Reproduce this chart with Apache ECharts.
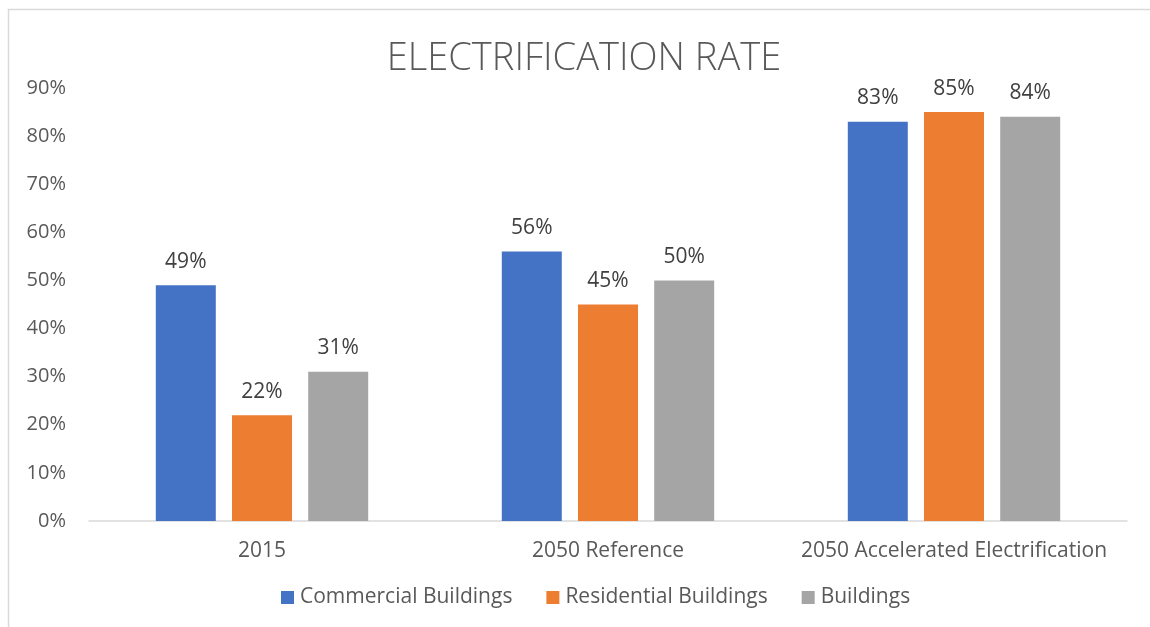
<!DOCTYPE html>
<html>
<head>
<meta charset="utf-8">
<script src="https://cdn.jsdelivr.net/npm/echarts@6/dist/echarts.min.js"></script>
<style>
  html, body { margin: 0; padding: 0; background: #fff; }
  #chart { width: 1150px; height: 627px; }
</style>
</head>
<body>
<div id="chart"></div>
<script>
// Electrification rate by scenario (percent)
const categories = ['2015', '2050 Reference', '2050 Accelerated Electrification'];
const seriesNames = ['Commercial Buildings', 'Residential Buildings', 'Buildings'];
const commercial = [49, 56, 83];
const residential = [22, 45, 85];
const buildings = [31, 50, 84];
const yTicks = [0, 10, 20, 30, 40, 50, 60, 70, 80, 90];

const colors = ['#4472C4', '#ED7D31', '#A5A5A5'];
const FONT = '"Open Sans", Lato, sans-serif';

const chart = echarts.init(document.getElementById('chart'), null, { renderer: 'canvas' });

function barSeries(name, data, color) {
  return {
    name: name,
    type: 'bar',
    data: data,
    barWidth: 60,
    barGap: '27%',
    itemStyle: { color: color },
    label: {
      show: true,
      position: 'top',
      distance: 13,
      formatter: p => p.value + '%',
      fontFamily: FONT,
      fontSize: 21,
      color: '#404040'
    }
  };
}

chart.setOption({
  animation: false,
  backgroundColor: '#ffffff',
  graphic: [{
    type: 'rect',
    shape: { x: 8.5, y: 9.5, width: 1160, height: 640 },
    style: { fill: 'none', stroke: '#d9d9d9', lineWidth: 1.5 },
    silent: true,
    z: -1
  }],
  title: {
    text: 'ELECTRIFICATION RATE',
    left: 579,
    textAlign: 'center',
    top: 35,
    textStyle: { fontFamily: FONT, fontWeight: 300, fontSize: 38, color: '#595959' }
  },
  legend: {
    data: seriesNames,
    bottom: 14,
    left: 276,
    itemWidth: 13,
    itemHeight: 13,
    itemGap: 34,
    icon: 'rect',
    textStyle: { fontFamily: FONT, fontSize: 21, color: '#595959', padding: [0, 0, 0, 1] }
  },
  grid: { left: 89, right: 23, top: 88, bottom: 106, containLabel: false },
  xAxis: {
    type: 'category',
    data: categories,
    axisLine: { lineStyle: { color: '#d9d9d9', width: 1.5 } },
    axisTick: { show: false },
    axisLabel: { interval: 0, fontFamily: FONT, fontSize: 21, color: '#595959', margin: 20 }
  },
  yAxis: {
    type: 'value',
    min: yTicks[0],
    max: yTicks[yTicks.length - 1],
    interval: 10,
    axisLine: { show: false },
    axisTick: { show: false },
    splitLine: { show: false },
    axisLabel: { fontFamily: FONT, fontSize: 20, color: '#595959', margin: 23, formatter: v => v + '%' }
  },
  series: [
    barSeries(seriesNames[0], commercial, colors[0]),
    barSeries(seriesNames[1], residential, colors[1]),
    barSeries(seriesNames[2], buildings, colors[2])
  ]
});
</script>
</body>
</html>
